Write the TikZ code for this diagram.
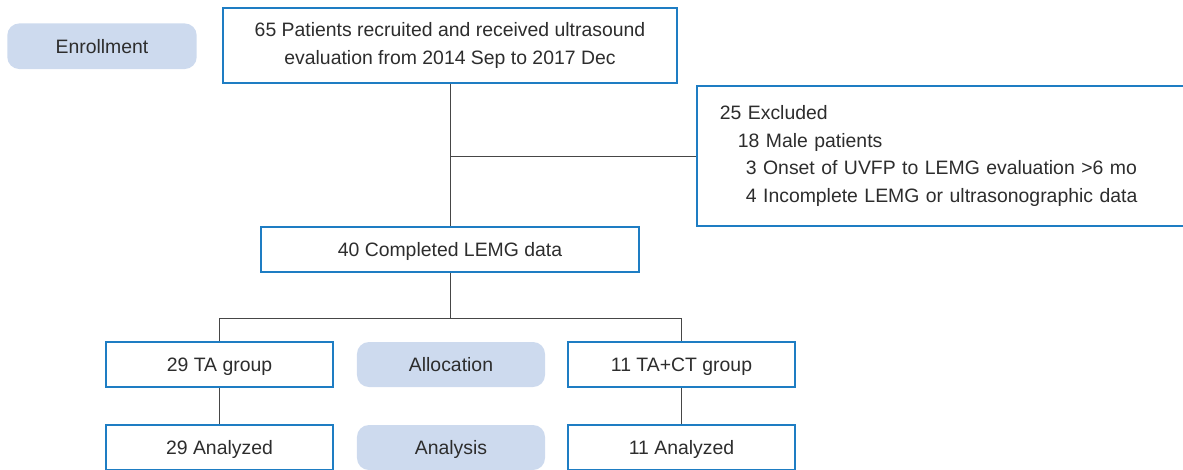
\documentclass[tikz,border=0pt]{standalone}
\usepackage{fontspec}
\setmainfont{Liberation Sans}
\usepackage{xcolor}
\usetikzlibrary{positioning,calc}
\definecolor{BoxBlue}{RGB}{30,125,195}
\definecolor{PillBlue}{RGB}{205,218,238}
\definecolor{TextGray}{RGB}{45,45,45}
\definecolor{LineGray}{RGB}{70,70,70}

\begin{document}
\begin{tikzpicture}[
        x=0.025cm, y=-0.025cm,
        % Style cho các ô chính (viền xanh)
        flowbox/.style={
            draw=BoxBlue,
            line width=1.2pt,
            fill=white,
            text=TextGray,
            font=\fontsize{13.8}{19.6}\selectfont,
            align=center,
            inner sep=0pt
        },
        % Ô một dòng
        onerow/.style={
            flowbox,
            align=none,
            text depth=0pt,
            minimum height=1.125cm
        },
        % Style cho nhãn giai đoạn (nền xanh nhạt)
        stagepill/.style={
            fill=PillBlue,
            rounded corners=0.3cm,
            text=TextGray,
            font=\fontsize{13.8}{19.6}\selectfont,
            text depth=0pt,
            minimum width=4.7cm,
            minimum height=1.125cm,
            inner sep=0pt
        },
        % Style cho cạnh nối
        edge/.style={
            draw=LineGray,
            line width=0.7pt
        }
    ]

        \useasboundingbox (0,0) rectangle (1183,469);

        % --- 1. ENROLLMENT ---
        \node[stagepill, minimum width=4.735cm, minimum height=1.14cm] (enroll) at (102, 46.2) {Enrollment};
        \node[flowbox, minimum width=11.35cm, minimum height=1.875cm] (recruit) at (450, 45.5)
            {65 Patients recruited and received ultrasound\\evaluation from 2014 Sep to 2017 Dec};

        % Ô loại trừ (bị cắt ở mép phải)
        \node[flowbox, anchor=west, align=left, inner xsep=0.575cm, text width=11.2cm, minimum height=3.5cm] (excl) at (696, 156)
            {25 Excluded\\
             \hspace*{0.45cm}18 Male patients\\
             \hspace*{0.65cm}3 Onset of UVFP to LEMG evaluation >6 mo\\
             \hspace*{0.65cm}4 Incomplete LEMG or ultrasonographic data};

        \node[onerow, minimum width=9.45cm] (done) at (450, 249.5) {40 Completed LEMG data};

        % --- 2. ALLOCATION ---
        \coordinate (split) at (450, 318.5);
        \node[onerow, minimum width=5.675cm] (ta) at (219.5, 364.5) {29 TA group};
        \node[stagepill] (alloc) at (451, 364.5) {Allocation};
        \node[onerow, minimum width=5.675cm] (tact) at (681.5, 364.5) {11 TA+CT group};

        % --- 3. ANALYSIS ---
        \node[onerow, minimum width=5.675cm] (taana) at (219.5, 447.5) {29 Analyzed};
        \node[stagepill] (analysis) at (451, 447.5) {Analysis};
        \node[onerow, minimum width=5.675cm] (tactana) at (681.5, 447.5) {11 Analyzed};

        % --- 4. VẼ CẠNH ---
        \draw[edge] (recruit.south) -- (done.north);
        \draw[edge] (recruit.south |- excl.west) -- (excl.west);

        \draw[edge] (done.south) -- (split);
        \draw[edge] (ta.north) |- (split) -| (tact.north);

        \draw[edge] (ta) -- (taana);
        \draw[edge] (tact) -- (tactana);

    \end{tikzpicture}
\end{document}
